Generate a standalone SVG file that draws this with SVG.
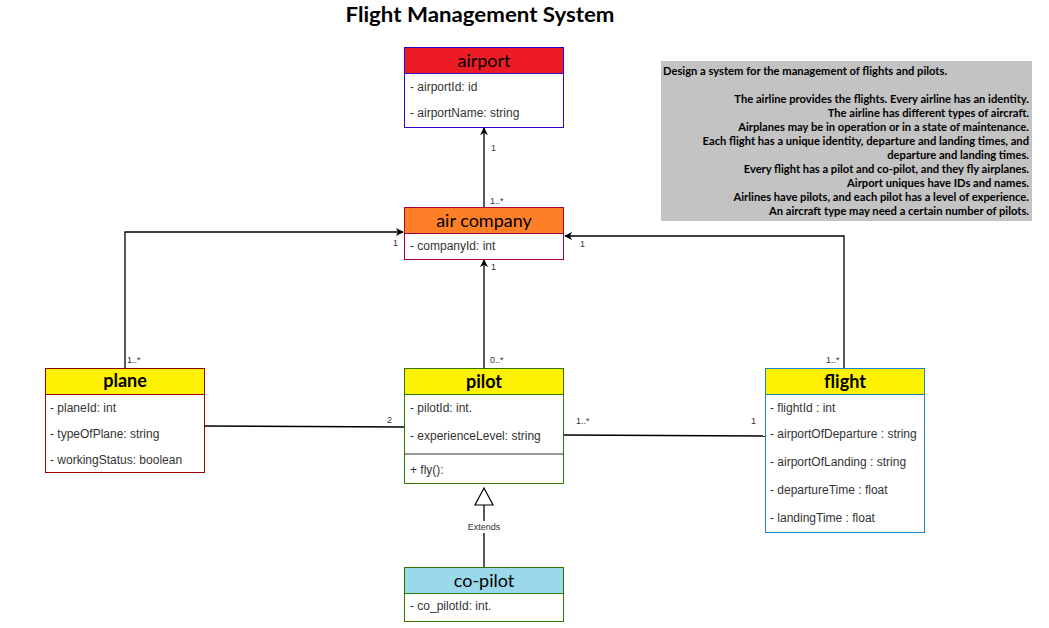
<svg xmlns="http://www.w3.org/2000/svg" width="1049" height="628" viewBox="0 0 1049 628">
<style>
.hd{font-family:"Lato","Open Sans","Liberation Sans",sans-serif;font-weight:bold;font-size:18px;text-anchor:middle;fill:#000}
.hr{font-weight:normal}
.at{font-family:"Liberation Sans",Arial,sans-serif;font-size:12px;fill:#333}
.lb{font-family:"Liberation Sans",Arial,sans-serif;font-size:9px;fill:#333}
.ln{fill:none;stroke:#000;stroke-width:1.3}
.nt{font-family:"Lato","Open Sans","Liberation Sans",sans-serif;font-weight:bold;font-size:11.2px;fill:#000}
</style>
<defs>
<marker id="arr" viewBox="0 0 10 10" refX="9" refY="5" markerWidth="8" markerHeight="8" orient="auto" markerUnits="userSpaceOnUse">
<path d="M0,0 L10,5 L0,10 L3,5 Z" fill="#000"/>
</marker>
</defs>
<rect width="1049" height="628" fill="#fff"/>
<text x="480" y="22" font-family="Lato,'Open Sans','Liberation Sans',sans-serif" font-weight="bold" font-size="20" text-anchor="middle" textLength="269" lengthAdjust="spacingAndGlyphs">Flight Management System</text>

<g id="note">
<rect x="661" y="61" width="371" height="160" fill="#C3C3C3"/>
<text class="nt" x="663" y="75">Design a system for the management of flights and pilots.</text>
<g text-anchor="end">
<text class="nt" x="1029" y="103">The airline provides the flights. Every airline has an identity.</text>
<text class="nt" x="1029" y="117">The airline has different types of aircraft.</text>
<text class="nt" x="1029" y="131">Airplanes may be in operation or in a state of maintenance.</text>
<text class="nt" x="1029" y="145">Each flight has a unique identity, departure and landing times, and</text>
<text class="nt" x="1029" y="159">departure and landing times.</text>
<text class="nt" x="1029" y="173">Every flight has a pilot and co-pilot, and they fly airplanes.</text>
<text class="nt" x="1029" y="187">Airport uniques have IDs and names.</text>
<text class="nt" x="1029" y="201">Airlines have pilots, and each pilot has a level of experience.</text>
<text class="nt" x="1029" y="215">An aircraft type may need a certain number of pilots.</text>
</g>
</g>

<g id="connectors">
<line class="ln" x1="484" y1="207" x2="484" y2="128" marker-end="url(#arr)"/>
<text class="lb" x="491" y="151">1</text>
<text class="lb" x="490" y="204">1..*</text>
<polyline class="ln" points="125,368 125,232 403,232" marker-end="url(#arr)"/>
<text class="lb" x="127" y="363">1..*</text>
<text class="lb" x="393" y="246">1</text>
<line class="ln" x1="484" y1="368" x2="484" y2="260" marker-end="url(#arr)"/>
<text class="lb" x="491" y="270">1</text>
<text class="lb" x="490" y="363">0..*</text>
<polyline class="ln" points="844,368 844,236 565,236" marker-end="url(#arr)"/>
<text class="lb" x="826" y="363">1..*</text>
<text class="lb" x="580" y="247">1</text>
<line class="ln" x1="204" y1="426" x2="404" y2="427"/>
<text class="lb" x="387" y="423">2</text>
<line class="ln" x1="564" y1="435" x2="765" y2="436"/>
<text class="lb" x="576" y="424">1..*</text>
<text class="lb" x="751" y="424">1</text>
<line class="ln" x1="484" y1="567" x2="484" y2="505"/>
<path d="M484,488 L493,505 L475,505 Z" fill="#fff" stroke="#000" stroke-width="1.2"/>
<rect x="465" y="521" width="38" height="12" fill="#fff"/>
<text class="lb" x="484" y="530" text-anchor="middle">Extends</text>
</g>

<g id="airport">
<rect x="404.5" y="47.5" width="159" height="80" fill="#fff" stroke="#3300CC"/>
<rect x="404.5" y="47.5" width="159" height="26" fill="#ED1C24" stroke="#3300CC"/>
<text class="hd hr" x="484" y="67">airport</text>
<text class="at" x="410" y="91">- airportId: id</text>
<text class="at" x="410" y="117">- airportName: string</text>
</g>

<g id="air-company">
<rect x="404.5" y="207.5" width="159" height="52" fill="#fff" stroke="#A50040"/>
<rect x="404.5" y="207.5" width="159" height="26" fill="#FF7F27" stroke="#A50040"/>
<text class="hd hr" x="484" y="227">air company</text>
<text class="at" x="410" y="250">- companyId: int</text>
</g>

<g id="plane">
<rect x="45.5" y="368.5" width="159" height="104" fill="#fff" stroke="#990000"/>
<rect x="45.5" y="368.5" width="159" height="26" fill="#FFF200" stroke="#990000"/>
<text class="hd" x="125" y="387">plane</text>
<text class="at" x="50" y="412">- planeId: int</text>
<text class="at" x="50" y="438">- typeOfPlane: string</text>
<text class="at" x="50" y="464">- workingStatus: boolean</text>
</g>

<g id="pilot">
<rect x="404.5" y="368.5" width="159" height="115" fill="#fff" stroke="#2D7600"/>
<rect x="404.5" y="368.5" width="159" height="26" fill="#FFF200" stroke="#2D7600"/>
<text class="hd" x="484" y="388">pilot</text>
<text class="at" x="410" y="412">- pilotId: int.</text>
<text class="at" x="410" y="440">- experienceLevel: string</text>
<line x1="404.5" y1="454" x2="563.5" y2="454" stroke="#333"/>
<text class="at" x="410" y="474">+ fly():</text>
</g>

<g id="flight">
<rect x="765.5" y="368.5" width="159" height="164" fill="#fff" stroke="#1F7FC8"/>
<rect x="765.5" y="368.5" width="159" height="26" fill="#FFF200" stroke="#1F7FC8"/>
<text class="hd" x="845" y="388">flight</text>
<text class="at" x="770" y="412">- flightId : int</text>
<text class="at" x="770" y="438">- airportOfDeparture : string</text>
<text class="at" x="770" y="466">- airportOfLanding : string</text>
<text class="at" x="770" y="494">- departureTime : float</text>
<text class="at" x="770" y="522">- landingTime : float</text>
</g>

<g id="co-pilot">
<rect x="404.5" y="567.5" width="159" height="54" fill="#fff" stroke="#2D7600"/>
<rect x="404.5" y="567.5" width="159" height="26" fill="#99D9EA" stroke="#2D7600"/>
<text class="hd hr" x="484" y="587">co-pilot</text>
<text class="at" x="410" y="610">- co_pilotId: int.</text>
</g>
</svg>
